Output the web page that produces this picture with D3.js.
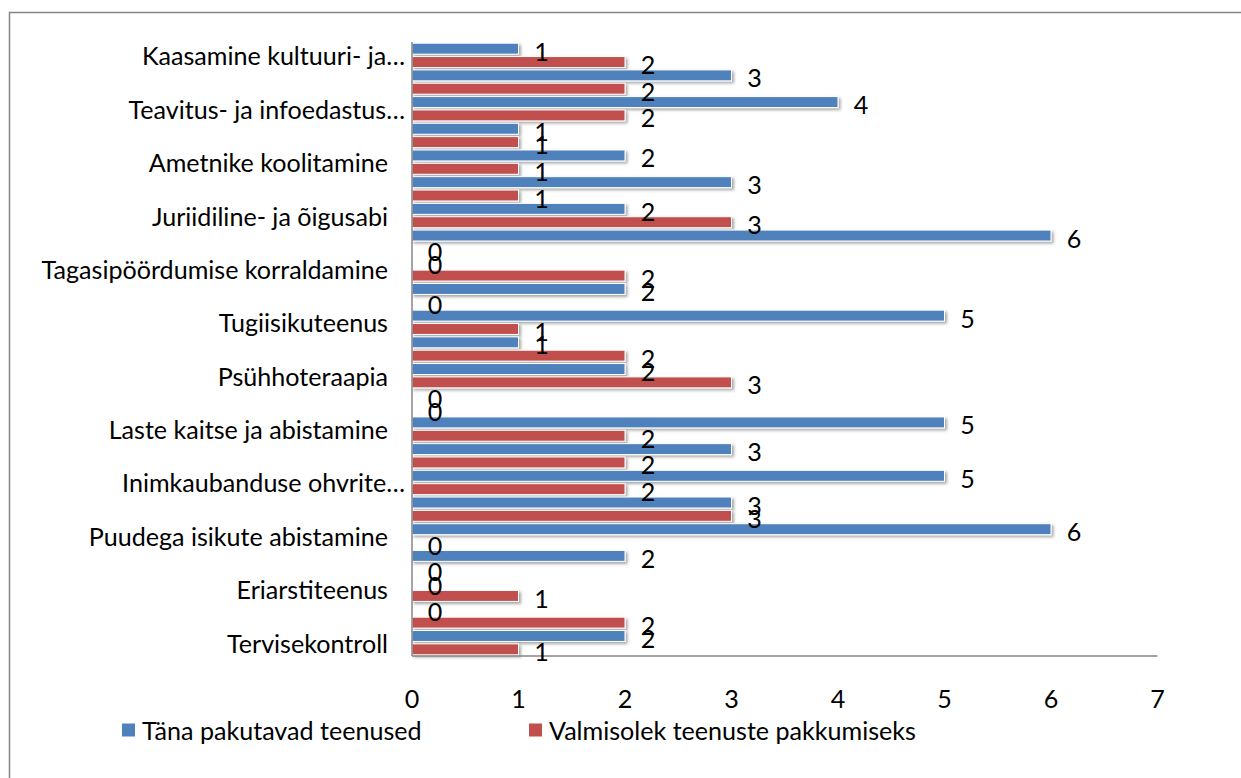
<!DOCTYPE html>
<html>
<head>
<meta charset="utf-8">
<script src="https://cdn.jsdelivr.net/npm/d3@7"></script>
<style>
  body { margin: 0; background: #fff; }
  text { font-family: Lato, "Open Sans", sans-serif; fill: #000; }
</style>
</head>
<body>
<script>
// categories top to bottom (only every other one has a visible label)
const labels = [
  "Kaasamine kultuuri- ja…", "", "Teavitus- ja infoedastus…", "",
  "Ametnike koolitamine", "", "Juriidiline- ja õigusabi", "",
  "Tagasipöördumise korraldamine", "", "Tugiisikuteenus", "",
  "Psühhoteraapia", "", "Laste kaitse ja abistamine", "",
  "Inimkaubanduse ohvrite…", "", "Puudega isikute abistamine", "",
  "Eriarstiteenus", "", "Tervisekontroll"
]
const offered = [1, 3, 4, 1, 2, 3, 2, 6, 0, 2, 5, 1, 2, 0, 5, 3, 5, 3, 6, 2, 0, 0, 2]
const ready   = [2, 2, 2, 1, 1, 1, 3, 0, 2, 0, 1, 2, 3, 0, 2, 2, 2, 3, 0, 0, 1, 2, 1]
const seriesNames = ["Täna pakutavad teenused", "Valmisolek teenuste pakkumiseks"]
const seriesColors = ["#4F81BD", "#C0504D"]
const xTicks = [0, 1, 2, 3, 4, 5, 6, 7]

const width = 1241, height = 778
const fontSize = 25.1

const svg = d3.select("body").append("svg")
      .attr("width", width)
      .attr("height", height)

// drop shadow for bars
const defs = svg.append("defs")
const filt = defs.append("filter")
      .attr("id", "shadow")
      .attr("x", "-5%").attr("y", "-50%")
      .attr("width", "110%").attr("height", "220%")
filt.append("feDropShadow")
      .attr("dx", 2).attr("dy", 2)
      .attr("stdDeviation", 1.5)
      .attr("flood-color", "#000")
      .attr("flood-opacity", 0.35)

// outer frame (cropped at right and bottom)
svg.append("rect")
      .attr("x", 9.5).attr("y", 12.5)
      .attr("width", width + 20).attr("height", height + 20)
      .attr("fill", "none")
      .attr("stroke", "#868686")
      .attr("stroke-width", 1.5)

// scales
const xScale = d3.scaleLinear([0, 7], [412, 1157.5])
const yScale = d3.scaleBand(d3.range(labels.length), [42, 656])
const subScale = d3.scaleBand([0, 1], [0, yScale.bandwidth()])

const data = labels.flatMap((lab, i) => [
      { cat: i, s: 0, v: offered[i] },
      { cat: i, s: 1, v: ready[i] }
])

// bars
svg.append("g")
      .selectAll("rect")
      .data(data.filter(d => d.v > 0))
      .join("rect")
      .attr("x", xScale(0))
      .attr("y", d => yScale(d.cat) + subScale(d.s) + 1.2)
      .attr("width", d => xScale(d.v) - xScale(0))
      .attr("height", subScale.bandwidth() - 2.4)
      .attr("fill", d => seriesColors[d.s])
      .attr("stroke", "#fff")
      .attr("stroke-width", 1)
      .attr("filter", "url(#shadow)")

// axes lines
svg.append("line")
      .attr("x1", xScale(0)).attr("x2", xScale(0))
      .attr("y1", 42).attr("y2", 656)
      .attr("stroke", "#868686").attr("stroke-width", 1.5)
svg.append("line")
      .attr("x1", xScale(0)).attr("x2", xScale(7))
      .attr("y1", 656).attr("y2", 656)
      .attr("stroke", "#868686").attr("stroke-width", 1.5)

// value labels
svg.append("g")
      .selectAll("text")
      .data(data)
      .join("text")
      .attr("x", d => xScale(d.v) + 23)
      .attr("y", d => yScale(d.cat) + subScale(d.s) + subScale.bandwidth() / 2 + 2)
      .attr("text-anchor", "middle")
      .attr("dominant-baseline", "central")
      .attr("font-size", fontSize)
      .text(d => d.v)

// category labels
svg.append("g")
      .selectAll("text")
      .data(labels.map((l, i) => ({ l, i })).filter(d => d.l))
      .join("text")
      .attr("x", d => d.l.endsWith("…") ? 405 : 388)
      .attr("y", d => yScale(d.i) + yScale.bandwidth() / 2)
      .attr("text-anchor", "end")
      .attr("dominant-baseline", "central")
      .attr("font-size", fontSize)
      .text(d => d.l)

// x tick labels
svg.append("g")
      .selectAll("text")
      .data(xTicks)
      .join("text")
      .attr("x", d => xScale(d))
      .attr("y", 698)
      .attr("text-anchor", "middle")
      .attr("dominant-baseline", "central")
      .attr("font-size", fontSize)
      .text(d => d)

// legend
const legendX = [122, 529]
const legend = svg.append("g")
      .selectAll("g")
      .data(seriesNames)
      .join("g")
      .attr("transform", (d, i) => `translate(${legendX[i]},730)`)
legend.append("rect")
      .attr("x", 0).attr("y", -6.5)
      .attr("width", 13).attr("height", 13)
      .attr("fill", (d, i) => seriesColors[i])
legend.append("text")
      .attr("x", 20)
      .attr("y", 0)
      .attr("dominant-baseline", "central")
      .attr("font-size", fontSize)
      .text(d => d)
</script>
</body>
</html>
